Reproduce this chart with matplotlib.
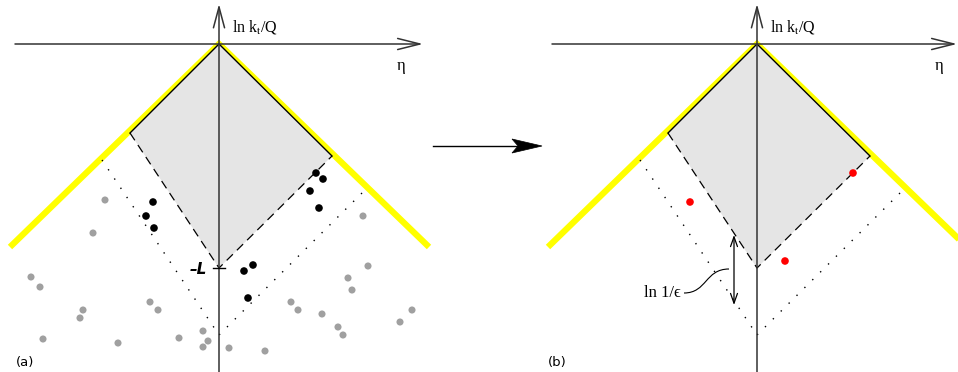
import numpy as np
import matplotlib
matplotlib.use("Agg")
import matplotlib.pyplot as plt
from matplotlib.patches import Polygon, FancyArrowPatch, PathPatch
from matplotlib.path import Path

plt.rcParams['mathtext.fontset'] = 'stix'

# diagram coordinates: eta to the right, ln kt/Q upwards, origin at the apex
# (units are ~1 pixel of the reference)
panel_offsets = [0, 538]
panel_labels = ['(a)', '(b)']
panel_label_x = [-194, -200]

yellow_eta = [-209, 0, 210]
yellow_lnkt = [-203, 0, -203]

# accepted region: apex, left corner, bottom, right corner
diamond_eta = [0, -89, 0, 113]
diamond_lnkt = [0, -89, -224, -112]

dot_left_eta = [-117, 0]
dot_left_lnkt = [-116, -291]
dot_right_eta = [143, 0]
dot_right_lnkt = [-149, -291]

black_eta = [-66, -73, -65, 97, 104, 91, 100, 25, 34, 29]
black_lnkt = [-158, -172, -184, -129, -135, -147, -164, -227, -221, -254]

gray_eta = [-114, -126, -188, -179, -136, -139, -176, -101, -69, -61, -40, -16, -11,
            -16, 10, 46, 72, 79, 103, 119, 124, 129, 133, 149, 144, 181, 193]
gray_lnkt = [-156, -189, -233, -243, -266, -274, -295, -299, -258, -266, -294, -287, -297,
             -303, -304, -307, -258, -266, -270, -283, -291, -234, -246, -222, -172, -278, -266]

red_eta = [-67, 96, 28]
red_lnkt = [-158, -129, -217]

fig = plt.figure(figsize=(9.58, 3.72), dpi=100)
ax = fig.add_axes([0, 0, 1, 1])
ax.set_xlim(-219, 739)
ax.set_ylim(-328, 44)
ax.axis('off')

axis_col = '#333333'
serif = ['Liberation Serif', 'DejaVu Serif']
x_axis_ends = [[-204, 204], [-205, 200]]

for k, off in enumerate(panel_offsets):
    # yellow boundary
    ax.plot(np.array(yellow_eta) + off, yellow_lnkt, color='#ffff00', lw=4.5,
            solid_joinstyle='miter', solid_capstyle='butt', zorder=1)
    # shaded region
    pts = np.column_stack([np.array(diamond_eta) + off, diamond_lnkt])
    ax.add_patch(Polygon(pts, closed=True, facecolor='#e5e5e5', edgecolor='none', zorder=2))
    ax.plot([pts[1, 0], pts[0, 0], pts[3, 0]], [pts[1, 1], pts[0, 1], pts[3, 1]],
            color='black', lw=1.0, zorder=3)
    ax.plot([pts[1, 0], pts[2, 0], pts[3, 0]], [pts[1, 1], pts[2, 1], pts[3, 1]],
            color='black', lw=0.9, linestyle=(0, (7, 4.5)), zorder=3)
    # dotted lines
    ax.plot(np.array(dot_left_eta) + off, dot_left_lnkt, color='black', lw=1.0,
            linestyle=(0, (1, 7)), zorder=3)
    ax.plot(np.array(dot_right_eta) + off, dot_right_lnkt, color='black', lw=1.0,
            linestyle=(0, (1, 7)), zorder=3)
    # axes with open arrow heads
    x0, x1 = x_axis_ends[k]
    ax.add_patch(FancyArrowPatch((x0 + off, 0), (x1 + off, 0),
                                 arrowstyle='->,head_length=16,head_width=4',
                                 mutation_scale=1, color=axis_col, lw=1.1,
                                 shrinkA=0, shrinkB=0, zorder=4))
    ax.add_patch(FancyArrowPatch((off, -330), (off, 40),
                                 arrowstyle='->,head_length=15,head_width=4',
                                 mutation_scale=1, color=axis_col, lw=1.1,
                                 shrinkA=0, shrinkB=0, zorder=4))
    ax.text(off + 13, 17, r'ln k$_{\rm t}$/Q', family=serif, fontsize=11.5,
            ha='left', va='center', zorder=5)
    ax.text(off + 182, -22, 'η', family=serif, fontsize=12, ha='center', va='center', zorder=5)
    ax.text(panel_label_x[k] + off, -319, panel_labels[k], family='DejaVu Sans',
            fontsize=9.5, ha='center', va='center', zorder=5)

# emissions in (a)
ax.scatter(gray_eta, gray_lnkt, s=26, color='#a0a0a0', edgecolors='none', zorder=5)
ax.scatter(black_eta, black_lnkt, s=30, color='black', edgecolors='none', zorder=5)
ax.plot([-6, 6], [-224, -224], color='black', lw=1.0, zorder=5)
ax.text(-12, -226, '\u2013L', family='DejaVu Sans', fontweight='bold', fontstyle='italic',
        fontsize=11, ha='right', va='center', zorder=5)

# emissions in (b)
offb = panel_offsets[1]
ax.scatter(np.array(red_eta) + offb, red_lnkt, s=30, color='#ff0000', edgecolors='none', zorder=5)

# ln 1/eps annotation
ax.add_patch(FancyArrowPatch((offb - 23, -191), (offb - 23, -261),
                             arrowstyle='<->,head_length=7,head_width=2.5',
                             mutation_scale=1, color='black', lw=0.9,
                             shrinkA=0, shrinkB=0, zorder=5))
curve = Path([(offb - 73, -249), (offb - 50, -249), (offb - 52, -225), (offb - 28, -225)],
             [Path.MOVETO, Path.CURVE4, Path.CURVE4, Path.CURVE4])
ax.add_patch(PathPatch(curve, facecolor='none', edgecolor='black', lw=0.8, zorder=5))
ax.text(offb - 76, -249, 'ln 1/\u03f5', family=serif, fontsize=12,
        ha='right', va='center', zorder=5)

# arrow between panels, with a notched head
arrow_start = (214, -102)
arrow_end = (323, -102)
head_len, head_half, notch = 30, 7, 24
ax.plot([arrow_start[0], arrow_end[0] - notch], [arrow_start[1], arrow_end[1]],
        color='black', lw=1.0, zorder=5)
ax.add_patch(Polygon([arrow_end,
                      (arrow_end[0] - head_len, arrow_end[1] + head_half),
                      (arrow_end[0] - notch, arrow_end[1]),
                      (arrow_end[0] - head_len, arrow_end[1] - head_half)],
                     closed=True, facecolor='black', edgecolor='black', lw=0.5, zorder=5))

fig.savefig('out.png', dpi=100)
